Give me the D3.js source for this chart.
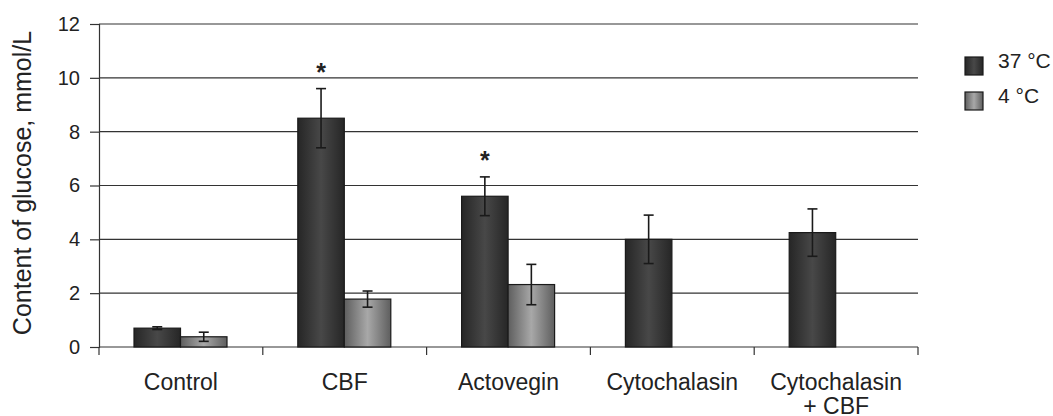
<!DOCTYPE html>
<html>
<head>
<meta charset="utf-8">
<script src="https://cdn.jsdelivr.net/npm/d3@7"></script>
<style>
body { margin: 0; background: #fff; }
text { font-family: "Liberation Sans", Arial, sans-serif; fill: #222; }
</style>
</head>
<body>
<svg></svg>
<script>
var categories = ["Control", "CBF", "Actovegin", "Cytochalasin", "Cytochalasin\n+ CBF"];
var series = ["37 °C", "4 °C"];
var warmValues = [0.7, 8.5, 5.6, 4.0, 4.25];
var warmErrors = [0.05, 1.1, 0.72, 0.9, 0.88];
var coldValues = [0.38, 1.78, 2.32, null, null];
var coldErrors = [0.17, 0.3, 0.75, null, null];
var significant = [false, true, true, false, false];
var yTicks = [0, 2, 4, 6, 8, 10, 12];

var screen = {width: 1053, height: 416};
var margins = {top: 24, right: 135, bottom: 69, left: 99};

var makeGraph = function()
{
    var svg = d3.select("svg")
    .attr("width", screen.width)
    .attr("height", screen.height);

    var width = screen.width - margins.left - margins.right;
    var height = screen.height - margins.top - margins.bottom;

    var defs = svg.append("defs");
    var grads = [
        {id: "gWarm", edge: "#262626", mid: "#484848"},
        {id: "gCold", edge: "#5e5e5e", mid: "#a8a8a8"}
    ];
    grads.forEach(function(g){
        var lg = defs.append("linearGradient").attr("id", g.id)
        .attr("x1", "0%").attr("x2", "100%").attr("y1", "0%").attr("y2", "0%");
        lg.append("stop").attr("offset", "0%").attr("stop-color", g.edge);
        lg.append("stop").attr("offset", "50%").attr("stop-color", g.mid);
        lg.append("stop").attr("offset", "100%").attr("stop-color", g.edge);
    });

    var xScale = d3.scaleBand().domain(categories).range([0, width]);
    var yScale = d3.scaleLinear().domain([0, 12]).range([height, 0]);
    var inner = d3.scaleBand().domain(series).range([35, 128]);

    var graph = svg.append("g")
    .attr("id", "graph")
    .attr("transform", "translate("+margins.left+","+margins.top+")");

    // gridlines
    graph.append("g").selectAll("line")
    .data(yTicks.filter(function(t){ return t > 0; }))
    .enter().append("line")
    .attr("x1", 0).attr("x2", width)
    .attr("y1", function(t){ return yScale(t); })
    .attr("y2", function(t){ return yScale(t); })
    .attr("stroke", "#333").attr("stroke-width", 1.2);

    // y axis
    var yAxis = d3.axisLeft(yScale).tickValues(yTicks).tickSize(9).tickPadding(10);
    var ya = graph.append("g").attr("id", "yAxis").call(yAxis);
    ya.select(".domain").attr("stroke", "#333").attr("stroke-width", 1.2);
    ya.selectAll(".tick line").attr("stroke", "#333").attr("stroke-width", 1.2);
    ya.selectAll("text").attr("font-size", 20).attr("fill", "#222")
    .attr("font-family", "Liberation Sans, Arial, sans-serif");

    // x axis with ticks at category boundaries
    var xa = graph.append("g").attr("id", "xAxis")
    .attr("transform", "translate(0,"+height+")");
    xa.append("line").attr("x1", 0).attr("x2", width)
    .attr("stroke", "#333").attr("stroke-width", 1.2);
    var bounds = categories.map(function(c){ return xScale(c); }).concat([width]);
    xa.selectAll(".bt").data(bounds).enter().append("line")
    .attr("x1", function(d){ return d; }).attr("x2", function(d){ return d; })
    .attr("y1", 0).attr("y2", 8)
    .attr("stroke", "#333").attr("stroke-width", 1.2);
    var labels = xa.selectAll(".cl").data(categories).enter().append("text")
    .attr("text-anchor", "middle")
    .attr("font-size", 23)
    .attr("transform", function(c){ return "translate("+(xScale(c) + xScale.bandwidth()/2)+",0)"; });
    labels.selectAll("tspan")
    .data(function(c){ return c.split("\n"); })
    .enter().append("tspan")
    .attr("x", 0)
    .attr("y", function(s, i){ return 43 + i*24; })
    .text(function(s){ return s; });

    // bars
    var rows = categories.map(function(c, i){
        return [
            {cat: c, s: series[0], v: warmValues[i], e: warmErrors[i], fill: "url(#gWarm)"},
            {cat: c, s: series[1], v: coldValues[i], e: coldErrors[i], fill: "url(#gCold)"}
        ];
    });
    var flat = [].concat.apply([], rows).filter(function(d){ return d.v != null; });

    graph.append("g").selectAll("rect")
    .data(flat).enter().append("rect")
    .attr("x", function(d){ return xScale(d.cat) + inner(d.s); })
    .attr("width", inner.bandwidth())
    .attr("y", function(d){ return yScale(d.v); })
    .attr("height", function(d){ return height - yScale(d.v); })
    .attr("fill", function(d){ return d.fill; })
    .attr("stroke", "#1a1a1a").attr("stroke-width", 1.2);

    // error bars
    var eb = graph.append("g").selectAll("g")
    .data(flat).enter().append("g")
    .attr("stroke", "#1a1a1a").attr("stroke-width", 1.6);
    var cx = function(d){ return xScale(d.cat) + inner(d.s) + inner.bandwidth()/2; };
    eb.append("line")
    .attr("x1", cx).attr("x2", cx)
    .attr("y1", function(d){ return yScale(d.v + d.e); })
    .attr("y2", function(d){ return yScale(d.v - d.e); });
    [1, -1].forEach(function(sign){
        eb.append("line")
        .attr("x1", function(d){ return cx(d) - 5; })
        .attr("x2", function(d){ return cx(d) + 5; })
        .attr("y1", function(d){ return yScale(d.v + sign*d.e); })
        .attr("y2", function(d){ return yScale(d.v + sign*d.e); });
    });

    // significance asterisks
    graph.append("g").selectAll("text")
    .data(flat.filter(function(d){ return d.s === series[0] && significant[categories.indexOf(d.cat)]; }))
    .enter().append("text")
    .attr("x", cx)
    .attr("y", function(d){ return yScale(d.v + d.e) - 8; })
    .attr("text-anchor", "middle")
    .attr("font-size", 25).attr("font-weight", "bold")
    .text("*");

    // y label
    svg.append("text")
    .attr("transform", "translate(31,"+183+") rotate(-90)")
    .attr("text-anchor", "middle")
    .attr("font-size", 25)
    .text("Content of glucose, mmol/L");

    // legend
    var legend = svg.append("g").attr("transform", "translate(965,57)");
    var items = legend.selectAll("g").data(series).enter().append("g")
    .attr("transform", function(s, i){ return "translate(0,"+(i*35)+")"; });
    items.append("rect")
    .attr("width", 18).attr("height", 18)
    .attr("fill", function(s, i){ return i === 0 ? "url(#gWarm)" : "url(#gCold)"; })
    .attr("stroke", "#1a1a1a").attr("stroke-width", 1.2);
    items.append("text")
    .attr("x", 33).attr("y", 11)
    .attr("font-size", 21)
    .text(function(s){ return s; });
}

makeGraph();
</script>
</body>
</html>
